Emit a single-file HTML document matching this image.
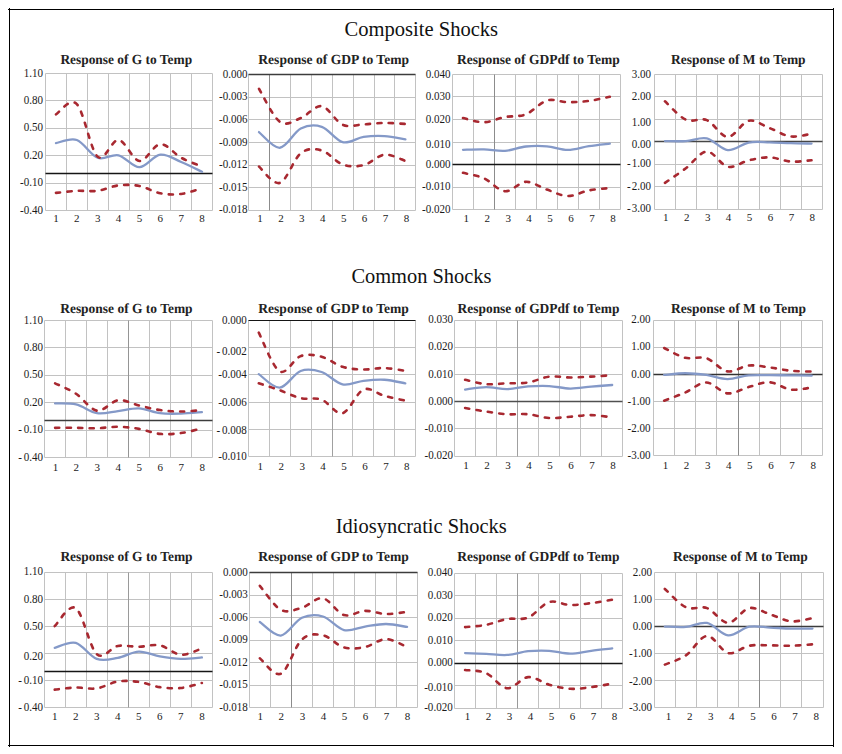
<!DOCTYPE html>
<html><head><meta charset="utf-8"><style>
html,body{margin:0;padding:0;background:#fff;}
svg{display:block;}
</style></head><body>
<svg width="842" height="754" viewBox="0 0 842 754">
<rect width="842" height="754" fill="#fff"/>
<path d="M8,9.5H834M8,745.5H834M9.5,8V747M833.5,8V747" fill="none" stroke="#000" stroke-width="1"/>
<text x="344.5" y="35.8" font-family="Liberation Serif" font-size="20.4" textLength="153.6" lengthAdjust="spacingAndGlyphs" fill="#111">Composite Shocks</text>
<text x="351.4" y="282.8" font-family="Liberation Serif" font-size="20.4" textLength="140.0" lengthAdjust="spacingAndGlyphs" fill="#111">Common Shocks</text>
<text x="335.8" y="533.0" font-family="Liberation Serif" font-size="20.4" textLength="171.0" lengthAdjust="spacingAndGlyphs" fill="#111">Idiosyncratic Shocks</text>
<line x1="45.50" y1="73.50" x2="212.50" y2="73.50" stroke="#c2c2c2" stroke-width="1"/>
<line x1="45.50" y1="100.50" x2="212.50" y2="100.50" stroke="#c2c2c2" stroke-width="1"/>
<line x1="45.50" y1="128.50" x2="212.50" y2="128.50" stroke="#c2c2c2" stroke-width="1"/>
<line x1="45.50" y1="155.50" x2="212.50" y2="155.50" stroke="#c2c2c2" stroke-width="1"/>
<line x1="45.50" y1="183.50" x2="212.50" y2="183.50" stroke="#c2c2c2" stroke-width="1"/>
<line x1="45.50" y1="210.50" x2="212.50" y2="210.50" stroke="#c2c2c2" stroke-width="1"/>
<line x1="45.50" y1="73.50" x2="45.50" y2="210.50" stroke="#c2c2c2" stroke-width="1"/>
<line x1="66.50" y1="73.50" x2="66.50" y2="210.50" stroke="#c2c2c2" stroke-width="1"/>
<line x1="87.50" y1="73.50" x2="87.50" y2="210.50" stroke="#c2c2c2" stroke-width="1"/>
<line x1="108.50" y1="73.50" x2="108.50" y2="210.50" stroke="#c2c2c2" stroke-width="1"/>
<line x1="129.50" y1="73.50" x2="129.50" y2="210.50" stroke="#c2c2c2" stroke-width="1"/>
<line x1="149.50" y1="73.50" x2="149.50" y2="210.50" stroke="#c2c2c2" stroke-width="1"/>
<line x1="170.50" y1="73.50" x2="170.50" y2="210.50" stroke="#c2c2c2" stroke-width="1"/>
<line x1="191.50" y1="73.50" x2="191.50" y2="210.50" stroke="#c2c2c2" stroke-width="1"/>
<line x1="212.50" y1="73.50" x2="212.50" y2="210.50" stroke="#c2c2c2" stroke-width="1"/>
<line x1="45.50" y1="173.50" x2="212.50" y2="173.50" stroke="#151515" stroke-width="1.4"/>
<text transform="translate(43.00 76.60) scale(0.96 1)" text-anchor="end" font-family="Liberation Serif" font-size="11.5" fill="#1a1a1a">1.10</text>
<text transform="translate(43.00 104.00) scale(0.96 1)" text-anchor="end" font-family="Liberation Serif" font-size="11.5" fill="#1a1a1a">0.80</text>
<text transform="translate(43.00 131.40) scale(0.96 1)" text-anchor="end" font-family="Liberation Serif" font-size="11.5" fill="#1a1a1a">0.50</text>
<text transform="translate(43.00 158.80) scale(0.96 1)" text-anchor="end" font-family="Liberation Serif" font-size="11.5" fill="#1a1a1a">0.20</text>
<text transform="translate(43.00 186.20) scale(0.96 1)" text-anchor="end" font-family="Liberation Serif" font-size="11.5" fill="#1a1a1a">-0.10</text>
<text transform="translate(43.00 213.60) scale(0.96 1)" text-anchor="end" font-family="Liberation Serif" font-size="11.5" fill="#1a1a1a">-0.40</text>
<text x="55.94" y="222.20" text-anchor="middle" font-family="Liberation Serif" font-size="11" fill="#1a1a1a">1</text>
<text x="76.81" y="222.20" text-anchor="middle" font-family="Liberation Serif" font-size="11" fill="#1a1a1a">2</text>
<text x="97.69" y="222.20" text-anchor="middle" font-family="Liberation Serif" font-size="11" fill="#1a1a1a">3</text>
<text x="118.56" y="222.20" text-anchor="middle" font-family="Liberation Serif" font-size="11" fill="#1a1a1a">4</text>
<text x="139.44" y="222.20" text-anchor="middle" font-family="Liberation Serif" font-size="11" fill="#1a1a1a">5</text>
<text x="160.31" y="222.20" text-anchor="middle" font-family="Liberation Serif" font-size="11" fill="#1a1a1a">6</text>
<text x="181.19" y="222.20" text-anchor="middle" font-family="Liberation Serif" font-size="11" fill="#1a1a1a">7</text>
<text x="202.06" y="222.20" text-anchor="middle" font-family="Liberation Serif" font-size="11" fill="#1a1a1a">8</text>
<text x="60.4" y="63.6" font-family="Liberation Serif" font-weight="bold" font-size="13.9" text-rendering="geometricPrecision" textLength="131.7" lengthAdjust="spacingAndGlyphs" fill="#222">Response of G to Temp</text>
<path d="M55.94,143.16 C59.42,142.64 69.85,137.59 76.81,140.03 C83.77,142.46 90.73,155.25 97.69,157.79 C104.65,160.34 111.60,153.72 118.56,155.28 C125.52,156.85 132.48,167.30 139.44,167.20 C146.40,167.09 153.35,155.53 160.31,154.66 C167.27,153.79 174.23,159.12 181.19,161.97 C188.15,164.83 198.58,170.16 202.06,171.80" fill="none" stroke="#8499c8" stroke-width="2.3" stroke-linecap="round"/>
<path d="M55.94,114.31 C59.42,112.61 69.85,97.00 76.81,104.07 C83.77,111.14 90.73,150.76 97.69,156.75 C104.65,162.74 111.60,139.33 118.56,140.03 C125.52,140.72 132.48,160.23 139.44,160.93 C146.40,161.62 153.35,144.73 160.31,144.21 C167.27,143.68 174.23,154.06 181.19,157.79 C188.15,161.52 198.58,165.11 202.06,166.57" fill="none" stroke="#a82830" stroke-width="2.6" stroke-linecap="round" stroke-dasharray="4.2 7.3"/>
<path d="M55.94,192.91 C59.42,192.56 69.85,191.17 76.81,190.82 C83.77,190.47 90.73,191.73 97.69,190.82 C104.65,189.91 111.60,186.19 118.56,185.38 C125.52,184.58 132.48,184.69 139.44,186.01 C146.40,187.34 153.35,192.00 160.31,193.33 C167.27,194.65 174.23,194.83 181.19,193.95 C188.15,193.08 198.58,189.08 202.06,188.10" fill="none" stroke="#a82830" stroke-width="2.6" stroke-linecap="round" stroke-dasharray="4.2 7.3"/>
<line x1="248.50" y1="74.50" x2="415.50" y2="74.50" stroke="#c2c2c2" stroke-width="1"/>
<line x1="248.50" y1="97.50" x2="415.50" y2="97.50" stroke="#c2c2c2" stroke-width="1"/>
<line x1="248.50" y1="119.50" x2="415.50" y2="119.50" stroke="#c2c2c2" stroke-width="1"/>
<line x1="248.50" y1="142.50" x2="415.50" y2="142.50" stroke="#c2c2c2" stroke-width="1"/>
<line x1="248.50" y1="165.50" x2="415.50" y2="165.50" stroke="#c2c2c2" stroke-width="1"/>
<line x1="248.50" y1="187.50" x2="415.50" y2="187.50" stroke="#c2c2c2" stroke-width="1"/>
<line x1="248.50" y1="210.50" x2="415.50" y2="210.50" stroke="#c2c2c2" stroke-width="1"/>
<line x1="248.50" y1="74.50" x2="248.50" y2="210.50" stroke="#c2c2c2" stroke-width="1"/>
<line x1="269.50" y1="74.50" x2="269.50" y2="210.50" stroke="#8c8c8c" stroke-width="1"/>
<line x1="290.50" y1="74.50" x2="290.50" y2="210.50" stroke="#c2c2c2" stroke-width="1"/>
<line x1="311.50" y1="74.50" x2="311.50" y2="210.50" stroke="#c2c2c2" stroke-width="1"/>
<line x1="332.50" y1="74.50" x2="332.50" y2="210.50" stroke="#c2c2c2" stroke-width="1"/>
<line x1="353.50" y1="74.50" x2="353.50" y2="210.50" stroke="#c2c2c2" stroke-width="1"/>
<line x1="374.50" y1="74.50" x2="374.50" y2="210.50" stroke="#c2c2c2" stroke-width="1"/>
<line x1="394.50" y1="74.50" x2="394.50" y2="210.50" stroke="#c2c2c2" stroke-width="1"/>
<line x1="415.50" y1="74.50" x2="415.50" y2="210.50" stroke="#c2c2c2" stroke-width="1"/>
<line x1="248.50" y1="74.50" x2="415.50" y2="74.50" stroke="#3c3c3c" stroke-width="1.6"/>
<text transform="translate(247.60 77.60) scale(0.96 1)" text-anchor="end" font-family="Liberation Serif" font-size="11.5" fill="#1a1a1a">0.000</text>
<text transform="translate(247.60 100.23) scale(0.96 1)" text-anchor="end" font-family="Liberation Serif" font-size="11.5" fill="#1a1a1a">-0.003</text>
<text transform="translate(247.60 122.87) scale(0.96 1)" text-anchor="end" font-family="Liberation Serif" font-size="11.5" fill="#1a1a1a">-0.006</text>
<text transform="translate(247.60 145.50) scale(0.96 1)" text-anchor="end" font-family="Liberation Serif" font-size="11.5" fill="#1a1a1a">-0.009</text>
<text transform="translate(247.60 168.13) scale(0.96 1)" text-anchor="end" font-family="Liberation Serif" font-size="11.5" fill="#1a1a1a">-0.012</text>
<text transform="translate(247.60 190.77) scale(0.96 1)" text-anchor="end" font-family="Liberation Serif" font-size="11.5" fill="#1a1a1a">-0.015</text>
<text transform="translate(247.60 213.40) scale(0.96 1)" text-anchor="end" font-family="Liberation Serif" font-size="11.5" fill="#1a1a1a">-0.018</text>
<text x="259.96" y="222.00" text-anchor="middle" font-family="Liberation Serif" font-size="11" fill="#1a1a1a">1</text>
<text x="280.89" y="222.00" text-anchor="middle" font-family="Liberation Serif" font-size="11" fill="#1a1a1a">2</text>
<text x="301.81" y="222.00" text-anchor="middle" font-family="Liberation Serif" font-size="11" fill="#1a1a1a">3</text>
<text x="322.74" y="222.00" text-anchor="middle" font-family="Liberation Serif" font-size="11" fill="#1a1a1a">4</text>
<text x="343.66" y="222.00" text-anchor="middle" font-family="Liberation Serif" font-size="11" fill="#1a1a1a">5</text>
<text x="364.59" y="222.00" text-anchor="middle" font-family="Liberation Serif" font-size="11" fill="#1a1a1a">6</text>
<text x="385.51" y="222.00" text-anchor="middle" font-family="Liberation Serif" font-size="11" fill="#1a1a1a">7</text>
<text x="406.44" y="222.00" text-anchor="middle" font-family="Liberation Serif" font-size="11" fill="#1a1a1a">8</text>
<text x="258.3" y="63.6" font-family="Liberation Serif" font-weight="bold" font-size="13.9" text-rendering="geometricPrecision" textLength="150.7" lengthAdjust="spacingAndGlyphs" fill="#222">Response of GDP to Temp</text>
<path d="M258.96,132.08 C262.45,134.69 272.91,148.35 279.89,147.76 C286.86,147.17 293.84,132.01 300.81,128.53 C307.79,125.04 314.76,124.59 321.74,126.86 C328.71,129.12 335.69,140.44 342.66,142.12 C349.64,143.79 356.61,137.90 363.59,136.89 C370.56,135.88 377.54,135.64 384.51,136.05 C391.49,136.47 401.95,138.84 405.44,139.40" fill="none" stroke="#8499c8" stroke-width="2.3" stroke-linecap="round"/>
<path d="M258.96,88.81 C262.45,94.32 272.91,116.96 279.89,121.84 C286.86,126.72 293.84,120.69 300.81,118.08 C307.79,115.46 314.76,105.05 321.74,106.16 C328.71,107.28 335.69,121.73 342.66,124.77 C349.64,127.80 356.61,124.66 363.59,124.35 C370.56,124.03 377.54,122.95 384.51,122.88 C391.49,122.81 401.95,123.76 405.44,123.93" fill="none" stroke="#a82830" stroke-width="2.6" stroke-linecap="round" stroke-dasharray="4.2 7.3"/>
<path d="M258.96,166.57 C262.45,169.29 272.91,185.11 279.89,182.88 C286.86,180.65 293.84,158.59 300.81,153.19 C307.79,147.79 314.76,148.60 321.74,150.48 C328.71,152.36 335.69,162.04 342.66,164.48 C349.64,166.92 356.61,166.75 363.59,165.11 C370.56,163.47 377.54,155.35 384.51,154.66 C391.49,153.96 401.95,159.88 405.44,160.93" fill="none" stroke="#a82830" stroke-width="2.6" stroke-linecap="round" stroke-dasharray="4.2 7.3"/>
<line x1="452.50" y1="74.50" x2="620.50" y2="74.50" stroke="#c2c2c2" stroke-width="1"/>
<line x1="452.50" y1="96.50" x2="620.50" y2="96.50" stroke="#c2c2c2" stroke-width="1"/>
<line x1="452.50" y1="119.50" x2="620.50" y2="119.50" stroke="#c2c2c2" stroke-width="1"/>
<line x1="452.50" y1="142.50" x2="620.50" y2="142.50" stroke="#c2c2c2" stroke-width="1"/>
<line x1="452.50" y1="164.50" x2="620.50" y2="164.50" stroke="#c2c2c2" stroke-width="1"/>
<line x1="452.50" y1="187.50" x2="620.50" y2="187.50" stroke="#c2c2c2" stroke-width="1"/>
<line x1="452.50" y1="209.50" x2="620.50" y2="209.50" stroke="#c2c2c2" stroke-width="1"/>
<line x1="452.50" y1="74.50" x2="452.50" y2="209.50" stroke="#c2c2c2" stroke-width="1"/>
<line x1="473.50" y1="74.50" x2="473.50" y2="209.50" stroke="#c2c2c2" stroke-width="1"/>
<line x1="494.50" y1="74.50" x2="494.50" y2="209.50" stroke="#8c8c8c" stroke-width="1"/>
<line x1="515.50" y1="74.50" x2="515.50" y2="209.50" stroke="#c2c2c2" stroke-width="1"/>
<line x1="536.50" y1="74.50" x2="536.50" y2="209.50" stroke="#c2c2c2" stroke-width="1"/>
<line x1="557.50" y1="74.50" x2="557.50" y2="209.50" stroke="#c2c2c2" stroke-width="1"/>
<line x1="578.50" y1="74.50" x2="578.50" y2="209.50" stroke="#c2c2c2" stroke-width="1"/>
<line x1="599.50" y1="74.50" x2="599.50" y2="209.50" stroke="#c2c2c2" stroke-width="1"/>
<line x1="620.50" y1="74.50" x2="620.50" y2="209.50" stroke="#c2c2c2" stroke-width="1"/>
<line x1="452.50" y1="164.50" x2="620.50" y2="164.50" stroke="#151515" stroke-width="1.4"/>
<text transform="translate(450.60 77.50) scale(0.96 1)" text-anchor="end" font-family="Liberation Serif" font-size="11.5" fill="#1a1a1a">0.040</text>
<text transform="translate(450.60 100.07) scale(0.96 1)" text-anchor="end" font-family="Liberation Serif" font-size="11.5" fill="#1a1a1a">0.030</text>
<text transform="translate(450.60 122.63) scale(0.96 1)" text-anchor="end" font-family="Liberation Serif" font-size="11.5" fill="#1a1a1a">0.020</text>
<text transform="translate(450.60 148.20) scale(0.96 1)" text-anchor="end" font-family="Liberation Serif" font-size="11.5" fill="#1a1a1a">0.010</text>
<text transform="translate(450.60 167.77) scale(0.96 1)" text-anchor="end" font-family="Liberation Serif" font-size="11.5" fill="#1a1a1a">0.000</text>
<text transform="translate(450.60 190.33) scale(0.96 1)" text-anchor="end" font-family="Liberation Serif" font-size="11.5" fill="#1a1a1a">-0.010</text>
<text transform="translate(450.60 212.90) scale(0.96 1)" text-anchor="end" font-family="Liberation Serif" font-size="11.5" fill="#1a1a1a">-0.020</text>
<text x="466.19" y="221.50" text-anchor="middle" font-family="Liberation Serif" font-size="11" fill="#1a1a1a">1</text>
<text x="487.16" y="221.50" text-anchor="middle" font-family="Liberation Serif" font-size="11" fill="#1a1a1a">2</text>
<text x="508.14" y="221.50" text-anchor="middle" font-family="Liberation Serif" font-size="11" fill="#1a1a1a">3</text>
<text x="529.11" y="221.50" text-anchor="middle" font-family="Liberation Serif" font-size="11" fill="#1a1a1a">4</text>
<text x="550.09" y="221.50" text-anchor="middle" font-family="Liberation Serif" font-size="11" fill="#1a1a1a">5</text>
<text x="571.06" y="221.50" text-anchor="middle" font-family="Liberation Serif" font-size="11" fill="#1a1a1a">6</text>
<text x="592.04" y="221.50" text-anchor="middle" font-family="Liberation Serif" font-size="11" fill="#1a1a1a">7</text>
<text x="613.01" y="221.50" text-anchor="middle" font-family="Liberation Serif" font-size="11" fill="#1a1a1a">8</text>
<text x="457.0" y="63.6" font-family="Liberation Serif" font-weight="bold" font-size="13.9" text-rendering="geometricPrecision" textLength="162.7" lengthAdjust="spacingAndGlyphs" fill="#222">Response of GDPdf to Temp</text>
<path d="M462.99,149.85 C466.48,149.78 476.97,149.26 483.96,149.43 C490.95,149.61 497.95,151.38 504.94,150.89 C511.93,150.41 518.92,147.27 525.91,146.51 C532.90,145.74 539.90,145.74 546.89,146.30 C553.88,146.85 560.87,149.88 567.86,149.85 C574.85,149.81 581.85,147.13 588.84,146.09 C595.83,145.04 606.32,144.00 609.81,143.58" fill="none" stroke="#8499c8" stroke-width="2.3" stroke-linecap="round"/>
<path d="M462.99,118.08 C466.48,118.77 476.97,122.43 483.96,122.26 C490.95,122.08 497.95,118.36 504.94,117.03 C511.93,115.71 518.92,117.07 525.91,114.31 C532.90,111.56 539.90,102.54 546.89,100.52 C553.88,98.50 560.87,102.12 567.86,102.19 C574.85,102.26 581.85,101.84 588.84,100.94 C595.83,100.03 606.32,97.45 609.81,96.76" fill="none" stroke="#a82830" stroke-width="2.6" stroke-linecap="round" stroke-dasharray="4.2 7.3"/>
<path d="M462.99,172.84 C466.48,173.75 476.97,175.21 483.96,178.28 C490.95,181.34 497.95,190.65 504.94,191.24 C511.93,191.83 518.92,182.11 525.91,181.83 C532.90,181.55 539.90,187.20 546.89,189.57 C553.88,191.93 560.87,195.91 567.86,196.05 C574.85,196.18 581.85,191.73 588.84,190.40 C595.83,189.08 606.32,188.49 609.81,188.10" fill="none" stroke="#a82830" stroke-width="2.6" stroke-linecap="round" stroke-dasharray="4.2 7.3"/>
<line x1="654.50" y1="74.50" x2="822.50" y2="74.50" stroke="#c2c2c2" stroke-width="1"/>
<line x1="654.50" y1="96.50" x2="822.50" y2="96.50" stroke="#c2c2c2" stroke-width="1"/>
<line x1="654.50" y1="119.50" x2="822.50" y2="119.50" stroke="#c2c2c2" stroke-width="1"/>
<line x1="654.50" y1="141.50" x2="822.50" y2="141.50" stroke="#c2c2c2" stroke-width="1"/>
<line x1="654.50" y1="164.50" x2="822.50" y2="164.50" stroke="#c2c2c2" stroke-width="1"/>
<line x1="654.50" y1="186.50" x2="822.50" y2="186.50" stroke="#c2c2c2" stroke-width="1"/>
<line x1="654.50" y1="209.50" x2="822.50" y2="209.50" stroke="#c2c2c2" stroke-width="1"/>
<line x1="654.50" y1="74.50" x2="654.50" y2="209.50" stroke="#c2c2c2" stroke-width="1"/>
<line x1="675.50" y1="74.50" x2="675.50" y2="209.50" stroke="#c2c2c2" stroke-width="1"/>
<line x1="696.50" y1="74.50" x2="696.50" y2="209.50" stroke="#c2c2c2" stroke-width="1"/>
<line x1="717.50" y1="74.50" x2="717.50" y2="209.50" stroke="#c2c2c2" stroke-width="1"/>
<line x1="738.50" y1="74.50" x2="738.50" y2="209.50" stroke="#c2c2c2" stroke-width="1"/>
<line x1="759.50" y1="74.50" x2="759.50" y2="209.50" stroke="#c2c2c2" stroke-width="1"/>
<line x1="780.50" y1="74.50" x2="780.50" y2="209.50" stroke="#c2c2c2" stroke-width="1"/>
<line x1="801.50" y1="74.50" x2="801.50" y2="209.50" stroke="#c2c2c2" stroke-width="1"/>
<line x1="822.50" y1="74.50" x2="822.50" y2="209.50" stroke="#c2c2c2" stroke-width="1"/>
<line x1="654.50" y1="141.50" x2="822.50" y2="141.50" stroke="#464646" stroke-width="1.6"/>
<text transform="translate(651.00 77.50) scale(0.96 1)" text-anchor="end" font-family="Liberation Serif" font-size="11.5" fill="#1a1a1a">3.00</text>
<text transform="translate(651.00 99.93) scale(0.96 1)" text-anchor="end" font-family="Liberation Serif" font-size="11.5" fill="#1a1a1a">2.00</text>
<text transform="translate(651.00 125.87) scale(0.96 1)" text-anchor="end" font-family="Liberation Serif" font-size="11.5" fill="#1a1a1a">1.00</text>
<text transform="translate(651.00 148.20) scale(0.96 1)" text-anchor="end" font-family="Liberation Serif" font-size="11.5" fill="#1a1a1a">0.00</text>
<text transform="translate(651.00 167.23) scale(0.96 1)" text-anchor="end" font-family="Liberation Serif" font-size="11.5" fill="#1a1a1a">- 1.00</text>
<text transform="translate(651.00 189.67) scale(0.96 1)" text-anchor="end" font-family="Liberation Serif" font-size="11.5" fill="#1a1a1a">- 2.00</text>
<text transform="translate(651.00 212.10) scale(0.96 1)" text-anchor="end" font-family="Liberation Serif" font-size="11.5" fill="#1a1a1a">- 3.00</text>
<text x="665.77" y="220.70" text-anchor="middle" font-family="Liberation Serif" font-size="11" fill="#1a1a1a">1</text>
<text x="686.71" y="220.70" text-anchor="middle" font-family="Liberation Serif" font-size="11" fill="#1a1a1a">2</text>
<text x="707.64" y="220.70" text-anchor="middle" font-family="Liberation Serif" font-size="11" fill="#1a1a1a">3</text>
<text x="728.58" y="220.70" text-anchor="middle" font-family="Liberation Serif" font-size="11" fill="#1a1a1a">4</text>
<text x="749.52" y="220.70" text-anchor="middle" font-family="Liberation Serif" font-size="11" fill="#1a1a1a">5</text>
<text x="770.46" y="220.70" text-anchor="middle" font-family="Liberation Serif" font-size="11" fill="#1a1a1a">6</text>
<text x="791.39" y="220.70" text-anchor="middle" font-family="Liberation Serif" font-size="11" fill="#1a1a1a">7</text>
<text x="812.33" y="220.70" text-anchor="middle" font-family="Liberation Serif" font-size="11" fill="#1a1a1a">8</text>
<text x="671.1" y="63.6" font-family="Liberation Serif" font-weight="bold" font-size="13.9" text-rendering="geometricPrecision" textLength="134.5" lengthAdjust="spacingAndGlyphs" fill="#222">Response of M to Temp</text>
<path d="M664.97,141.07 C668.46,141.07 678.93,141.52 685.91,141.07 C692.89,140.62 699.86,136.85 706.84,138.35 C713.82,139.85 720.80,149.36 727.78,150.06 C734.76,150.76 741.74,143.82 748.72,142.53 C755.70,141.24 762.68,142.22 769.66,142.32 C776.64,142.43 783.61,142.95 790.59,143.16 C797.57,143.37 808.04,143.51 811.53,143.58" fill="none" stroke="#8499c8" stroke-width="2.3" stroke-linecap="round"/>
<path d="M664.97,101.35 C668.46,104.42 678.93,116.61 685.91,119.75 C692.89,122.88 699.86,117.31 706.84,120.17 C713.82,123.02 720.80,136.79 727.78,136.89 C734.76,136.99 741.74,122.26 748.72,120.79 C755.70,119.33 762.68,125.50 769.66,128.11 C776.64,130.72 783.61,135.53 790.59,136.47 C797.57,137.41 808.04,134.21 811.53,133.75" fill="none" stroke="#a82830" stroke-width="2.6" stroke-linecap="round" stroke-dasharray="4.2 7.3"/>
<path d="M664.97,182.88 C668.46,180.44 678.93,173.47 685.91,168.24 C692.89,163.02 699.86,151.77 706.84,151.52 C713.82,151.28 720.80,165.32 727.78,166.78 C734.76,168.24 741.74,161.87 748.72,160.30 C755.70,158.73 762.68,157.17 769.66,157.37 C776.64,157.58 783.61,161.07 790.59,161.56 C797.57,162.04 808.04,160.51 811.53,160.30" fill="none" stroke="#a82830" stroke-width="2.6" stroke-linecap="round" stroke-dasharray="4.2 7.3"/>
<line x1="44.50" y1="320.50" x2="212.50" y2="320.50" stroke="#c2c2c2" stroke-width="1"/>
<line x1="44.50" y1="347.50" x2="212.50" y2="347.50" stroke="#c2c2c2" stroke-width="1"/>
<line x1="44.50" y1="375.50" x2="212.50" y2="375.50" stroke="#c2c2c2" stroke-width="1"/>
<line x1="44.50" y1="402.50" x2="212.50" y2="402.50" stroke="#c2c2c2" stroke-width="1"/>
<line x1="44.50" y1="430.50" x2="212.50" y2="430.50" stroke="#c2c2c2" stroke-width="1"/>
<line x1="44.50" y1="457.50" x2="212.50" y2="457.50" stroke="#c2c2c2" stroke-width="1"/>
<line x1="44.50" y1="320.50" x2="44.50" y2="457.50" stroke="#c2c2c2" stroke-width="1"/>
<line x1="65.50" y1="320.50" x2="65.50" y2="457.50" stroke="#c2c2c2" stroke-width="1"/>
<line x1="86.50" y1="320.50" x2="86.50" y2="457.50" stroke="#c2c2c2" stroke-width="1"/>
<line x1="107.50" y1="320.50" x2="107.50" y2="457.50" stroke="#c2c2c2" stroke-width="1"/>
<line x1="128.50" y1="320.50" x2="128.50" y2="457.50" stroke="#959595" stroke-width="1"/>
<line x1="149.50" y1="320.50" x2="149.50" y2="457.50" stroke="#c2c2c2" stroke-width="1"/>
<line x1="170.50" y1="320.50" x2="170.50" y2="457.50" stroke="#c2c2c2" stroke-width="1"/>
<line x1="191.50" y1="320.50" x2="191.50" y2="457.50" stroke="#c2c2c2" stroke-width="1"/>
<line x1="212.50" y1="320.50" x2="212.50" y2="457.50" stroke="#c2c2c2" stroke-width="1"/>
<line x1="44.50" y1="420.50" x2="212.50" y2="420.50" stroke="#3c3c3c" stroke-width="1.6"/>
<text transform="translate(43.10 323.60) scale(0.96 1)" text-anchor="end" font-family="Liberation Serif" font-size="11.5" fill="#1a1a1a">1.10</text>
<text transform="translate(43.10 350.98) scale(0.96 1)" text-anchor="end" font-family="Liberation Serif" font-size="11.5" fill="#1a1a1a">0.80</text>
<text transform="translate(43.10 378.36) scale(0.96 1)" text-anchor="end" font-family="Liberation Serif" font-size="11.5" fill="#1a1a1a">0.50</text>
<text transform="translate(43.10 405.74) scale(0.96 1)" text-anchor="end" font-family="Liberation Serif" font-size="11.5" fill="#1a1a1a">0.20</text>
<text transform="translate(43.10 433.12) scale(0.96 1)" text-anchor="end" font-family="Liberation Serif" font-size="11.5" fill="#1a1a1a">- 0.10</text>
<text transform="translate(43.10 460.50) scale(0.96 1)" text-anchor="end" font-family="Liberation Serif" font-size="11.5" fill="#1a1a1a">- 0.40</text>
<text x="55.39" y="470.70" text-anchor="middle" font-family="Liberation Serif" font-size="11" fill="#1a1a1a">1</text>
<text x="76.36" y="470.70" text-anchor="middle" font-family="Liberation Serif" font-size="11" fill="#1a1a1a">2</text>
<text x="97.34" y="470.70" text-anchor="middle" font-family="Liberation Serif" font-size="11" fill="#1a1a1a">3</text>
<text x="118.31" y="470.70" text-anchor="middle" font-family="Liberation Serif" font-size="11" fill="#1a1a1a">4</text>
<text x="139.29" y="470.70" text-anchor="middle" font-family="Liberation Serif" font-size="11" fill="#1a1a1a">5</text>
<text x="160.26" y="470.70" text-anchor="middle" font-family="Liberation Serif" font-size="11" fill="#1a1a1a">6</text>
<text x="181.24" y="470.70" text-anchor="middle" font-family="Liberation Serif" font-size="11" fill="#1a1a1a">7</text>
<text x="202.21" y="470.70" text-anchor="middle" font-family="Liberation Serif" font-size="11" fill="#1a1a1a">8</text>
<text x="60.2" y="312.6" font-family="Liberation Serif" font-weight="bold" font-size="13.9" text-rendering="geometricPrecision" textLength="132.4" lengthAdjust="spacingAndGlyphs" fill="#222">Response of G to Temp</text>
<path d="M55.09,403.37 C58.58,403.55 69.07,402.78 76.06,404.42 C83.05,406.06 90.05,412.08 97.04,413.20 C104.03,414.31 111.02,411.91 118.01,411.11 C125.00,410.31 132.00,408.04 138.99,408.39 C145.98,408.74 152.97,412.33 159.96,413.20 C166.95,414.07 173.95,413.79 180.94,413.62 C187.93,413.44 198.42,412.40 201.91,412.15" fill="none" stroke="#8499c8" stroke-width="2.3" stroke-linecap="round"/>
<path d="M55.09,383.31 C58.58,385.05 69.07,389.20 76.06,393.76 C83.05,398.32 90.05,409.61 97.04,410.69 C104.03,411.77 111.02,401.11 118.01,400.24 C125.00,399.37 132.00,403.83 138.99,405.46 C145.98,407.10 152.97,409.05 159.96,410.06 C166.95,411.07 173.95,411.53 180.94,411.53 C187.93,411.53 198.42,410.31 201.91,410.06" fill="none" stroke="#a82830" stroke-width="2.6" stroke-linecap="round" stroke-dasharray="4.2 7.3"/>
<path d="M55.09,427.83 C58.58,427.83 69.07,427.76 76.06,427.83 C83.05,427.90 90.05,428.42 97.04,428.25 C104.03,428.07 111.02,426.68 118.01,426.79 C125.00,426.89 132.00,427.69 138.99,428.88 C145.98,430.06 152.97,433.20 159.96,433.89 C166.95,434.59 173.95,433.96 180.94,433.06 C187.93,432.15 198.42,429.22 201.91,428.46" fill="none" stroke="#a82830" stroke-width="2.6" stroke-linecap="round" stroke-dasharray="4.2 7.3"/>
<line x1="248.50" y1="320.50" x2="415.50" y2="320.50" stroke="#c2c2c2" stroke-width="1"/>
<line x1="248.50" y1="347.50" x2="415.50" y2="347.50" stroke="#c2c2c2" stroke-width="1"/>
<line x1="248.50" y1="374.50" x2="415.50" y2="374.50" stroke="#c2c2c2" stroke-width="1"/>
<line x1="248.50" y1="402.50" x2="415.50" y2="402.50" stroke="#c2c2c2" stroke-width="1"/>
<line x1="248.50" y1="429.50" x2="415.50" y2="429.50" stroke="#c2c2c2" stroke-width="1"/>
<line x1="248.50" y1="456.50" x2="415.50" y2="456.50" stroke="#c2c2c2" stroke-width="1"/>
<line x1="248.50" y1="320.50" x2="248.50" y2="456.50" stroke="#c2c2c2" stroke-width="1"/>
<line x1="269.50" y1="320.50" x2="269.50" y2="456.50" stroke="#c2c2c2" stroke-width="1"/>
<line x1="290.50" y1="320.50" x2="290.50" y2="456.50" stroke="#c2c2c2" stroke-width="1"/>
<line x1="311.50" y1="320.50" x2="311.50" y2="456.50" stroke="#c2c2c2" stroke-width="1"/>
<line x1="332.50" y1="320.50" x2="332.50" y2="456.50" stroke="#a0a0a0" stroke-width="1"/>
<line x1="352.50" y1="320.50" x2="352.50" y2="456.50" stroke="#c2c2c2" stroke-width="1"/>
<line x1="373.50" y1="320.50" x2="373.50" y2="456.50" stroke="#c2c2c2" stroke-width="1"/>
<line x1="394.50" y1="320.50" x2="394.50" y2="456.50" stroke="#c2c2c2" stroke-width="1"/>
<line x1="415.50" y1="320.50" x2="415.50" y2="456.50" stroke="#c2c2c2" stroke-width="1"/>
<line x1="248.50" y1="320.50" x2="415.50" y2="320.50" stroke="#151515" stroke-width="1.2"/>
<text transform="translate(246.80 323.50) scale(0.96 1)" text-anchor="end" font-family="Liberation Serif" font-size="11.5" fill="#1a1a1a">0.000</text>
<text transform="translate(246.80 354.74) scale(0.96 1)" text-anchor="end" font-family="Liberation Serif" font-size="11.5" fill="#1a1a1a">- 0.002</text>
<text transform="translate(246.80 377.98) scale(0.96 1)" text-anchor="end" font-family="Liberation Serif" font-size="11.5" fill="#1a1a1a">-0.004</text>
<text transform="translate(246.80 406.22) scale(0.96 1)" text-anchor="end" font-family="Liberation Serif" font-size="11.5" fill="#1a1a1a">-0.006</text>
<text transform="translate(246.80 434.06) scale(0.96 1)" text-anchor="end" font-family="Liberation Serif" font-size="11.5" fill="#1a1a1a">- 0.008</text>
<text transform="translate(246.80 459.70) scale(0.96 1)" text-anchor="end" font-family="Liberation Serif" font-size="11.5" fill="#1a1a1a">-0.010</text>
<text x="260.27" y="469.90" text-anchor="middle" font-family="Liberation Serif" font-size="11" fill="#1a1a1a">1</text>
<text x="281.21" y="469.90" text-anchor="middle" font-family="Liberation Serif" font-size="11" fill="#1a1a1a">2</text>
<text x="302.14" y="469.90" text-anchor="middle" font-family="Liberation Serif" font-size="11" fill="#1a1a1a">3</text>
<text x="323.08" y="469.90" text-anchor="middle" font-family="Liberation Serif" font-size="11" fill="#1a1a1a">4</text>
<text x="344.02" y="469.90" text-anchor="middle" font-family="Liberation Serif" font-size="11" fill="#1a1a1a">5</text>
<text x="364.96" y="469.90" text-anchor="middle" font-family="Liberation Serif" font-size="11" fill="#1a1a1a">6</text>
<text x="385.89" y="469.90" text-anchor="middle" font-family="Liberation Serif" font-size="11" fill="#1a1a1a">7</text>
<text x="406.83" y="469.90" text-anchor="middle" font-family="Liberation Serif" font-size="11" fill="#1a1a1a">8</text>
<text x="258.3" y="312.6" font-family="Liberation Serif" font-weight="bold" font-size="13.9" text-rendering="geometricPrecision" textLength="150.6" lengthAdjust="spacingAndGlyphs" fill="#222">Response of GDP to Temp</text>
<path d="M258.77,374.11 C262.26,376.37 272.73,388.22 279.71,387.70 C286.69,387.17 293.66,373.59 300.64,370.97 C307.62,368.36 314.60,369.79 321.58,372.02 C328.56,374.25 335.54,382.89 342.52,384.35 C349.50,385.82 356.48,381.57 363.46,380.80 C370.44,380.03 377.41,379.34 384.39,379.75 C391.37,380.17 401.84,382.72 405.33,383.31" fill="none" stroke="#8499c8" stroke-width="2.3" stroke-linecap="round"/>
<path d="M258.77,332.72 C262.26,339.17 272.73,367.49 279.71,371.39 C286.69,375.29 293.66,358.57 300.64,356.13 C307.62,353.70 314.60,354.98 321.58,356.76 C328.56,358.54 335.54,364.67 342.52,366.79 C349.50,368.92 356.48,369.30 363.46,369.51 C370.44,369.72 377.41,367.84 384.39,368.05 C391.37,368.26 401.84,370.31 405.33,370.77" fill="none" stroke="#a82830" stroke-width="2.6" stroke-linecap="round" stroke-dasharray="4.2 7.3"/>
<path d="M258.77,383.31 C262.26,384.46 272.73,387.73 279.71,390.21 C286.69,392.68 293.66,396.58 300.64,398.15 C307.62,399.72 314.60,397.10 321.58,399.61 C328.56,402.12 335.54,414.87 342.52,413.20 C349.50,411.53 356.48,392.47 363.46,389.58 C370.44,386.69 377.41,394.00 384.39,395.85 C391.37,397.70 401.84,399.86 405.33,400.66" fill="none" stroke="#a82830" stroke-width="2.6" stroke-linecap="round" stroke-dasharray="4.2 7.3"/>
<line x1="454.50" y1="320.50" x2="622.50" y2="320.50" stroke="#c2c2c2" stroke-width="1"/>
<line x1="454.50" y1="347.50" x2="622.50" y2="347.50" stroke="#c2c2c2" stroke-width="1"/>
<line x1="454.50" y1="374.50" x2="622.50" y2="374.50" stroke="#c2c2c2" stroke-width="1"/>
<line x1="454.50" y1="401.50" x2="622.50" y2="401.50" stroke="#c2c2c2" stroke-width="1"/>
<line x1="454.50" y1="428.50" x2="622.50" y2="428.50" stroke="#c2c2c2" stroke-width="1"/>
<line x1="454.50" y1="456.50" x2="622.50" y2="456.50" stroke="#c2c2c2" stroke-width="1"/>
<line x1="454.50" y1="320.50" x2="454.50" y2="456.50" stroke="#c2c2c2" stroke-width="1"/>
<line x1="475.50" y1="320.50" x2="475.50" y2="456.50" stroke="#c2c2c2" stroke-width="1"/>
<line x1="496.50" y1="320.50" x2="496.50" y2="456.50" stroke="#c2c2c2" stroke-width="1"/>
<line x1="517.50" y1="320.50" x2="517.50" y2="456.50" stroke="#a0a0a0" stroke-width="1"/>
<line x1="538.50" y1="320.50" x2="538.50" y2="456.50" stroke="#c2c2c2" stroke-width="1"/>
<line x1="559.50" y1="320.50" x2="559.50" y2="456.50" stroke="#c2c2c2" stroke-width="1"/>
<line x1="580.50" y1="320.50" x2="580.50" y2="456.50" stroke="#c2c2c2" stroke-width="1"/>
<line x1="601.50" y1="320.50" x2="601.50" y2="456.50" stroke="#c2c2c2" stroke-width="1"/>
<line x1="622.50" y1="320.50" x2="622.50" y2="456.50" stroke="#c2c2c2" stroke-width="1"/>
<line x1="454.50" y1="401.50" x2="622.50" y2="401.50" stroke="#505050" stroke-width="1.6"/>
<text transform="translate(453.10 323.30) scale(0.96 1)" text-anchor="end" font-family="Liberation Serif" font-size="11.5" fill="#1a1a1a">0.030</text>
<text transform="translate(453.10 350.46) scale(0.96 1)" text-anchor="end" font-family="Liberation Serif" font-size="11.5" fill="#1a1a1a">0.020</text>
<text transform="translate(453.10 377.62) scale(0.96 1)" text-anchor="end" font-family="Liberation Serif" font-size="11.5" fill="#1a1a1a">0.010</text>
<text transform="translate(453.10 404.78) scale(0.96 1)" text-anchor="end" font-family="Liberation Serif" font-size="11.5" fill="#1a1a1a">0.000</text>
<text transform="translate(453.10 431.94) scale(0.96 1)" text-anchor="end" font-family="Liberation Serif" font-size="11.5" fill="#1a1a1a">-0.010</text>
<text transform="translate(453.10 459.10) scale(0.96 1)" text-anchor="end" font-family="Liberation Serif" font-size="11.5" fill="#1a1a1a">-0.020</text>
<text x="465.91" y="469.30" text-anchor="middle" font-family="Liberation Serif" font-size="11" fill="#1a1a1a">1</text>
<text x="486.92" y="469.30" text-anchor="middle" font-family="Liberation Serif" font-size="11" fill="#1a1a1a">2</text>
<text x="507.93" y="469.30" text-anchor="middle" font-family="Liberation Serif" font-size="11" fill="#1a1a1a">3</text>
<text x="528.94" y="469.30" text-anchor="middle" font-family="Liberation Serif" font-size="11" fill="#1a1a1a">4</text>
<text x="549.96" y="469.30" text-anchor="middle" font-family="Liberation Serif" font-size="11" fill="#1a1a1a">5</text>
<text x="570.97" y="469.30" text-anchor="middle" font-family="Liberation Serif" font-size="11" fill="#1a1a1a">6</text>
<text x="591.98" y="469.30" text-anchor="middle" font-family="Liberation Serif" font-size="11" fill="#1a1a1a">7</text>
<text x="612.99" y="469.30" text-anchor="middle" font-family="Liberation Serif" font-size="11" fill="#1a1a1a">8</text>
<text x="457.6" y="312.6" font-family="Liberation Serif" font-weight="bold" font-size="13.9" text-rendering="geometricPrecision" textLength="161.8" lengthAdjust="spacingAndGlyphs" fill="#222">Response of GDPdf to Temp</text>
<path d="M465.11,389.58 C468.61,389.16 479.11,387.14 486.12,387.07 C493.12,387.00 500.13,389.27 507.13,389.16 C514.14,389.06 521.14,386.97 528.14,386.44 C535.15,385.92 542.15,385.68 549.16,386.03 C556.16,386.37 563.16,388.43 570.17,388.53 C577.17,388.64 584.18,387.24 591.18,386.65 C598.19,386.06 608.69,385.26 612.19,384.98" fill="none" stroke="#8499c8" stroke-width="2.3" stroke-linecap="round"/>
<path d="M465.11,379.75 C468.61,380.49 479.11,383.55 486.12,384.14 C493.12,384.74 500.13,383.59 507.13,383.31 C514.14,383.03 521.14,383.59 528.14,382.47 C535.15,381.36 542.15,377.45 549.16,376.62 C556.16,375.78 563.16,377.45 570.17,377.45 C577.17,377.45 584.18,377.00 591.18,376.62 C598.19,376.24 608.69,375.40 612.19,375.16" fill="none" stroke="#a82830" stroke-width="2.6" stroke-linecap="round" stroke-dasharray="4.2 7.3"/>
<path d="M465.11,407.97 C468.61,408.57 479.11,410.48 486.12,411.53 C493.12,412.57 500.13,413.79 507.13,414.24 C514.14,414.70 521.14,413.62 528.14,414.24 C535.15,414.87 542.15,417.59 549.16,418.01 C556.16,418.42 563.16,417.24 570.17,416.75 C577.17,416.26 584.18,414.98 591.18,415.08 C598.19,415.18 608.69,417.00 612.19,417.38" fill="none" stroke="#a82830" stroke-width="2.6" stroke-linecap="round" stroke-dasharray="4.2 7.3"/>
<line x1="653.50" y1="320.50" x2="822.50" y2="320.50" stroke="#c2c2c2" stroke-width="1"/>
<line x1="653.50" y1="347.50" x2="822.50" y2="347.50" stroke="#c2c2c2" stroke-width="1"/>
<line x1="653.50" y1="374.50" x2="822.50" y2="374.50" stroke="#c2c2c2" stroke-width="1"/>
<line x1="653.50" y1="401.50" x2="822.50" y2="401.50" stroke="#c2c2c2" stroke-width="1"/>
<line x1="653.50" y1="428.50" x2="822.50" y2="428.50" stroke="#c2c2c2" stroke-width="1"/>
<line x1="653.50" y1="455.50" x2="822.50" y2="455.50" stroke="#c2c2c2" stroke-width="1"/>
<line x1="653.50" y1="320.50" x2="653.50" y2="455.50" stroke="#c2c2c2" stroke-width="1"/>
<line x1="674.50" y1="320.50" x2="674.50" y2="455.50" stroke="#c2c2c2" stroke-width="1"/>
<line x1="695.50" y1="320.50" x2="695.50" y2="455.50" stroke="#c2c2c2" stroke-width="1"/>
<line x1="716.50" y1="320.50" x2="716.50" y2="455.50" stroke="#c2c2c2" stroke-width="1"/>
<line x1="738.50" y1="320.50" x2="738.50" y2="455.50" stroke="#8c8c8c" stroke-width="1"/>
<line x1="759.50" y1="320.50" x2="759.50" y2="455.50" stroke="#c2c2c2" stroke-width="1"/>
<line x1="780.50" y1="320.50" x2="780.50" y2="455.50" stroke="#c2c2c2" stroke-width="1"/>
<line x1="801.50" y1="320.50" x2="801.50" y2="455.50" stroke="#c2c2c2" stroke-width="1"/>
<line x1="822.50" y1="320.50" x2="822.50" y2="455.50" stroke="#c2c2c2" stroke-width="1"/>
<line x1="653.50" y1="374.50" x2="822.50" y2="374.50" stroke="#333333" stroke-width="1.4"/>
<text transform="translate(650.60 323.30) scale(0.96 1)" text-anchor="end" font-family="Liberation Serif" font-size="11.5" fill="#1a1a1a">2.00</text>
<text transform="translate(650.60 350.42) scale(0.96 1)" text-anchor="end" font-family="Liberation Serif" font-size="11.5" fill="#1a1a1a">1.00</text>
<text transform="translate(650.60 377.54) scale(0.96 1)" text-anchor="end" font-family="Liberation Serif" font-size="11.5" fill="#1a1a1a">0.00</text>
<text transform="translate(650.60 404.66) scale(0.96 1)" text-anchor="end" font-family="Liberation Serif" font-size="11.5" fill="#1a1a1a">-1.00</text>
<text transform="translate(650.60 431.78) scale(0.96 1)" text-anchor="end" font-family="Liberation Serif" font-size="11.5" fill="#1a1a1a">-2.00</text>
<text transform="translate(650.60 458.90) scale(0.96 1)" text-anchor="end" font-family="Liberation Serif" font-size="11.5" fill="#1a1a1a">-3.00</text>
<text x="665.45" y="469.10" text-anchor="middle" font-family="Liberation Serif" font-size="11" fill="#1a1a1a">1</text>
<text x="686.55" y="469.10" text-anchor="middle" font-family="Liberation Serif" font-size="11" fill="#1a1a1a">2</text>
<text x="707.65" y="469.10" text-anchor="middle" font-family="Liberation Serif" font-size="11" fill="#1a1a1a">3</text>
<text x="728.75" y="469.10" text-anchor="middle" font-family="Liberation Serif" font-size="11" fill="#1a1a1a">4</text>
<text x="749.85" y="469.10" text-anchor="middle" font-family="Liberation Serif" font-size="11" fill="#1a1a1a">5</text>
<text x="770.95" y="469.10" text-anchor="middle" font-family="Liberation Serif" font-size="11" fill="#1a1a1a">6</text>
<text x="792.05" y="469.10" text-anchor="middle" font-family="Liberation Serif" font-size="11" fill="#1a1a1a">7</text>
<text x="813.15" y="469.10" text-anchor="middle" font-family="Liberation Serif" font-size="11" fill="#1a1a1a">8</text>
<text x="671.1" y="312.6" font-family="Liberation Serif" font-weight="bold" font-size="13.9" text-rendering="geometricPrecision" textLength="134.9" lengthAdjust="spacingAndGlyphs" fill="#222">Response of M to Temp</text>
<path d="M664.15,374.95 C667.67,374.67 678.22,373.27 685.25,373.27 C692.28,373.27 699.32,373.97 706.35,374.95 C713.38,375.92 720.42,379.06 727.45,379.13 C734.48,379.20 741.52,376.03 748.55,375.36 C755.58,374.70 762.62,375.16 769.65,375.16 C776.68,375.16 783.72,375.29 790.75,375.36 C797.78,375.43 808.33,375.54 811.85,375.57" fill="none" stroke="#8499c8" stroke-width="2.3" stroke-linecap="round"/>
<path d="M664.15,347.98 C667.67,349.62 678.22,356.10 685.25,357.81 C692.28,359.51 699.32,355.96 706.35,358.22 C713.38,360.49 720.42,370.17 727.45,371.39 C734.48,372.61 741.52,366.20 748.55,365.54 C755.58,364.88 762.62,366.55 769.65,367.42 C776.68,368.29 783.72,370.07 790.75,370.77 C797.78,371.46 808.33,371.46 811.85,371.60" fill="none" stroke="#a82830" stroke-width="2.6" stroke-linecap="round" stroke-dasharray="4.2 7.3"/>
<path d="M664.15,400.66 C667.67,399.30 678.22,395.54 685.25,392.51 C692.28,389.47 699.32,382.33 706.35,382.47 C713.38,382.61 720.42,392.57 727.45,393.34 C734.48,394.11 741.52,388.92 748.55,387.07 C755.58,385.22 762.62,381.84 769.65,382.26 C776.68,382.68 783.72,388.71 790.75,389.58 C797.78,390.45 808.33,387.84 811.85,387.49" fill="none" stroke="#a82830" stroke-width="2.6" stroke-linecap="round" stroke-dasharray="4.2 7.3"/>
<line x1="44.50" y1="572.50" x2="212.50" y2="572.50" stroke="#c2c2c2" stroke-width="1"/>
<line x1="44.50" y1="599.50" x2="212.50" y2="599.50" stroke="#c2c2c2" stroke-width="1"/>
<line x1="44.50" y1="626.50" x2="212.50" y2="626.50" stroke="#c2c2c2" stroke-width="1"/>
<line x1="44.50" y1="653.50" x2="212.50" y2="653.50" stroke="#c2c2c2" stroke-width="1"/>
<line x1="44.50" y1="680.50" x2="212.50" y2="680.50" stroke="#c2c2c2" stroke-width="1"/>
<line x1="44.50" y1="707.50" x2="212.50" y2="707.50" stroke="#c2c2c2" stroke-width="1"/>
<line x1="44.50" y1="572.50" x2="44.50" y2="707.50" stroke="#c2c2c2" stroke-width="1"/>
<line x1="65.50" y1="572.50" x2="65.50" y2="707.50" stroke="#c2c2c2" stroke-width="1"/>
<line x1="86.50" y1="572.50" x2="86.50" y2="707.50" stroke="#c2c2c2" stroke-width="1"/>
<line x1="107.50" y1="572.50" x2="107.50" y2="707.50" stroke="#c2c2c2" stroke-width="1"/>
<line x1="128.50" y1="572.50" x2="128.50" y2="707.50" stroke="#9a9a9a" stroke-width="1"/>
<line x1="149.50" y1="572.50" x2="149.50" y2="707.50" stroke="#c2c2c2" stroke-width="1"/>
<line x1="170.50" y1="572.50" x2="170.50" y2="707.50" stroke="#c2c2c2" stroke-width="1"/>
<line x1="191.50" y1="572.50" x2="191.50" y2="707.50" stroke="#c2c2c2" stroke-width="1"/>
<line x1="212.50" y1="572.50" x2="212.50" y2="707.50" stroke="#c2c2c2" stroke-width="1"/>
<line x1="44.50" y1="671.50" x2="212.50" y2="671.50" stroke="#151515" stroke-width="1.4"/>
<text transform="translate(43.10 575.40) scale(0.96 1)" text-anchor="end" font-family="Liberation Serif" font-size="11.5" fill="#1a1a1a">1.10</text>
<text transform="translate(43.10 602.50) scale(0.96 1)" text-anchor="end" font-family="Liberation Serif" font-size="11.5" fill="#1a1a1a">0.80</text>
<text transform="translate(43.10 629.60) scale(0.96 1)" text-anchor="end" font-family="Liberation Serif" font-size="11.5" fill="#1a1a1a">0.50</text>
<text transform="translate(43.10 659.70) scale(0.96 1)" text-anchor="end" font-family="Liberation Serif" font-size="11.5" fill="#1a1a1a">0.20</text>
<text transform="translate(43.10 683.80) scale(0.96 1)" text-anchor="end" font-family="Liberation Serif" font-size="11.5" fill="#1a1a1a">- 0.10</text>
<text transform="translate(43.10 710.90) scale(0.96 1)" text-anchor="end" font-family="Liberation Serif" font-size="11.5" fill="#1a1a1a">- 0.40</text>
<text x="54.71" y="719.50" text-anchor="middle" font-family="Liberation Serif" font-size="11" fill="#1a1a1a">1</text>
<text x="75.74" y="719.50" text-anchor="middle" font-family="Liberation Serif" font-size="11" fill="#1a1a1a">2</text>
<text x="96.76" y="719.50" text-anchor="middle" font-family="Liberation Serif" font-size="11" fill="#1a1a1a">3</text>
<text x="117.79" y="719.50" text-anchor="middle" font-family="Liberation Serif" font-size="11" fill="#1a1a1a">4</text>
<text x="138.81" y="719.50" text-anchor="middle" font-family="Liberation Serif" font-size="11" fill="#1a1a1a">5</text>
<text x="159.84" y="719.50" text-anchor="middle" font-family="Liberation Serif" font-size="11" fill="#1a1a1a">6</text>
<text x="180.86" y="719.50" text-anchor="middle" font-family="Liberation Serif" font-size="11" fill="#1a1a1a">7</text>
<text x="201.89" y="719.50" text-anchor="middle" font-family="Liberation Serif" font-size="11" fill="#1a1a1a">8</text>
<text x="60.4" y="561.4" font-family="Liberation Serif" font-weight="bold" font-size="13.9" text-rendering="geometricPrecision" textLength="132.2" lengthAdjust="spacingAndGlyphs" fill="#222">Response of G to Temp</text>
<path d="M54.71,647.85 C58.22,647.01 68.73,640.99 75.74,642.83 C82.75,644.68 89.75,656.42 96.76,658.93 C103.77,661.44 110.78,659.10 117.79,657.88 C124.80,656.66 131.80,651.86 138.81,651.61 C145.82,651.37 152.83,655.20 159.84,656.42 C166.85,657.64 173.85,658.75 180.86,658.93 C187.87,659.10 198.38,657.71 201.89,657.46" fill="none" stroke="#8499c8" stroke-width="2.3" stroke-linecap="round"/>
<path d="M54.71,626.11 C58.22,623.11 68.73,603.47 75.74,608.13 C82.75,612.80 89.75,647.81 96.76,654.12 C103.77,660.43 110.78,647.19 117.79,645.97 C124.80,644.75 131.80,646.91 138.81,646.80 C145.82,646.70 152.83,644.02 159.84,645.34 C166.85,646.66 173.85,654.22 180.86,654.75 C187.87,655.27 198.38,649.52 201.89,648.48" fill="none" stroke="#a82830" stroke-width="2.6" stroke-linecap="round" stroke-dasharray="4.2 7.3"/>
<path d="M54.71,689.66 C58.22,689.31 68.73,687.77 75.74,687.57 C82.75,687.36 89.75,689.41 96.76,688.40 C103.77,687.39 110.78,682.58 117.79,681.50 C124.80,680.42 131.80,680.98 138.81,681.92 C145.82,682.86 152.83,686.14 159.84,687.15 C166.85,688.16 173.85,688.68 180.86,687.98 C187.87,687.29 198.38,683.80 201.89,682.97" fill="none" stroke="#a82830" stroke-width="2.6" stroke-linecap="round" stroke-dasharray="4.2 7.3"/>
<line x1="249.50" y1="572.50" x2="417.50" y2="572.50" stroke="#c2c2c2" stroke-width="1"/>
<line x1="249.50" y1="595.50" x2="417.50" y2="595.50" stroke="#c2c2c2" stroke-width="1"/>
<line x1="249.50" y1="617.50" x2="417.50" y2="617.50" stroke="#c2c2c2" stroke-width="1"/>
<line x1="249.50" y1="640.50" x2="417.50" y2="640.50" stroke="#c2c2c2" stroke-width="1"/>
<line x1="249.50" y1="662.50" x2="417.50" y2="662.50" stroke="#c2c2c2" stroke-width="1"/>
<line x1="249.50" y1="685.50" x2="417.50" y2="685.50" stroke="#c2c2c2" stroke-width="1"/>
<line x1="249.50" y1="707.50" x2="417.50" y2="707.50" stroke="#c2c2c2" stroke-width="1"/>
<line x1="249.50" y1="572.50" x2="249.50" y2="707.50" stroke="#c2c2c2" stroke-width="1"/>
<line x1="270.50" y1="572.50" x2="270.50" y2="707.50" stroke="#c2c2c2" stroke-width="1"/>
<line x1="291.50" y1="572.50" x2="291.50" y2="707.50" stroke="#8c8c8c" stroke-width="1"/>
<line x1="312.50" y1="572.50" x2="312.50" y2="707.50" stroke="#c2c2c2" stroke-width="1"/>
<line x1="333.50" y1="572.50" x2="333.50" y2="707.50" stroke="#c2c2c2" stroke-width="1"/>
<line x1="354.50" y1="572.50" x2="354.50" y2="707.50" stroke="#c2c2c2" stroke-width="1"/>
<line x1="375.50" y1="572.50" x2="375.50" y2="707.50" stroke="#c2c2c2" stroke-width="1"/>
<line x1="396.50" y1="572.50" x2="396.50" y2="707.50" stroke="#c2c2c2" stroke-width="1"/>
<line x1="417.50" y1="572.50" x2="417.50" y2="707.50" stroke="#c2c2c2" stroke-width="1"/>
<line x1="249.50" y1="572.50" x2="417.50" y2="572.50" stroke="#3c3c3c" stroke-width="1.6"/>
<text transform="translate(247.80 575.70) scale(0.96 1)" text-anchor="end" font-family="Liberation Serif" font-size="11.5" fill="#1a1a1a">0.000</text>
<text transform="translate(247.80 598.23) scale(0.96 1)" text-anchor="end" font-family="Liberation Serif" font-size="11.5" fill="#1a1a1a">-0.003</text>
<text transform="translate(247.80 620.77) scale(0.96 1)" text-anchor="end" font-family="Liberation Serif" font-size="11.5" fill="#1a1a1a">-0.006</text>
<text transform="translate(247.80 643.30) scale(0.96 1)" text-anchor="end" font-family="Liberation Serif" font-size="11.5" fill="#1a1a1a">-0.009</text>
<text transform="translate(247.80 665.83) scale(0.96 1)" text-anchor="end" font-family="Liberation Serif" font-size="11.5" fill="#1a1a1a">-0.012</text>
<text transform="translate(247.80 688.37) scale(0.96 1)" text-anchor="end" font-family="Liberation Serif" font-size="11.5" fill="#1a1a1a">-0.015</text>
<text transform="translate(247.80 710.90) scale(0.96 1)" text-anchor="end" font-family="Liberation Serif" font-size="11.5" fill="#1a1a1a">-0.018</text>
<text x="260.32" y="719.50" text-anchor="middle" font-family="Liberation Serif" font-size="11" fill="#1a1a1a">1</text>
<text x="281.36" y="719.50" text-anchor="middle" font-family="Liberation Serif" font-size="11" fill="#1a1a1a">2</text>
<text x="302.39" y="719.50" text-anchor="middle" font-family="Liberation Serif" font-size="11" fill="#1a1a1a">3</text>
<text x="323.43" y="719.50" text-anchor="middle" font-family="Liberation Serif" font-size="11" fill="#1a1a1a">4</text>
<text x="344.47" y="719.50" text-anchor="middle" font-family="Liberation Serif" font-size="11" fill="#1a1a1a">5</text>
<text x="365.51" y="719.50" text-anchor="middle" font-family="Liberation Serif" font-size="11" fill="#1a1a1a">6</text>
<text x="386.54" y="719.50" text-anchor="middle" font-family="Liberation Serif" font-size="11" fill="#1a1a1a">7</text>
<text x="407.58" y="719.50" text-anchor="middle" font-family="Liberation Serif" font-size="11" fill="#1a1a1a">8</text>
<text x="258.3" y="561.4" font-family="Liberation Serif" font-weight="bold" font-size="13.9" text-rendering="geometricPrecision" textLength="150.6" lengthAdjust="spacingAndGlyphs" fill="#222">Response of GDP to Temp</text>
<path d="M259.82,621.93 C263.33,624.19 273.84,636.21 280.86,635.52 C287.87,634.82 294.88,620.92 301.89,617.75 C308.91,614.58 315.92,614.44 322.93,616.49 C329.94,618.55 336.96,628.41 343.97,630.08 C350.98,631.75 357.99,627.54 365.01,626.53 C372.02,625.52 379.03,623.95 386.04,624.02 C393.06,624.09 403.58,626.46 407.08,626.95" fill="none" stroke="#8499c8" stroke-width="2.3" stroke-linecap="round"/>
<path d="M259.82,585.77 C263.33,589.77 273.84,606.15 280.86,609.81 C287.87,613.46 294.88,609.63 301.89,607.72 C308.91,605.80 315.92,597.09 322.93,598.31 C329.94,599.53 336.96,612.94 343.97,615.03 C350.98,617.12 357.99,611.03 365.01,610.85 C372.02,610.68 379.03,613.81 386.04,613.99 C393.06,614.16 403.58,612.24 407.08,611.90" fill="none" stroke="#a82830" stroke-width="2.6" stroke-linecap="round" stroke-dasharray="4.2 7.3"/>
<path d="M259.82,658.30 C263.33,660.88 273.84,676.90 280.86,673.77 C287.87,670.63 294.88,645.90 301.89,639.49 C308.91,633.08 315.92,633.98 322.93,635.31 C329.94,636.63 336.96,645.48 343.97,647.43 C350.98,649.38 357.99,648.41 365.01,647.01 C372.02,645.62 379.03,639.07 386.04,639.07 C393.06,639.07 403.58,645.69 407.08,647.01" fill="none" stroke="#a82830" stroke-width="2.6" stroke-linecap="round" stroke-dasharray="4.2 7.3"/>
<line x1="454.50" y1="573.50" x2="622.50" y2="573.50" stroke="#c2c2c2" stroke-width="1"/>
<line x1="454.50" y1="595.50" x2="622.50" y2="595.50" stroke="#c2c2c2" stroke-width="1"/>
<line x1="454.50" y1="618.50" x2="622.50" y2="618.50" stroke="#c2c2c2" stroke-width="1"/>
<line x1="454.50" y1="640.50" x2="622.50" y2="640.50" stroke="#c2c2c2" stroke-width="1"/>
<line x1="454.50" y1="663.50" x2="622.50" y2="663.50" stroke="#c2c2c2" stroke-width="1"/>
<line x1="454.50" y1="685.50" x2="622.50" y2="685.50" stroke="#c2c2c2" stroke-width="1"/>
<line x1="454.50" y1="708.50" x2="622.50" y2="708.50" stroke="#c2c2c2" stroke-width="1"/>
<line x1="454.50" y1="573.50" x2="454.50" y2="708.50" stroke="#c2c2c2" stroke-width="1"/>
<line x1="475.50" y1="573.50" x2="475.50" y2="708.50" stroke="#c2c2c2" stroke-width="1"/>
<line x1="496.50" y1="573.50" x2="496.50" y2="708.50" stroke="#c2c2c2" stroke-width="1"/>
<line x1="517.50" y1="573.50" x2="517.50" y2="708.50" stroke="#9a9a9a" stroke-width="1"/>
<line x1="538.50" y1="573.50" x2="538.50" y2="708.50" stroke="#c2c2c2" stroke-width="1"/>
<line x1="559.50" y1="573.50" x2="559.50" y2="708.50" stroke="#c2c2c2" stroke-width="1"/>
<line x1="580.50" y1="573.50" x2="580.50" y2="708.50" stroke="#c2c2c2" stroke-width="1"/>
<line x1="601.50" y1="573.50" x2="601.50" y2="708.50" stroke="#c2c2c2" stroke-width="1"/>
<line x1="622.50" y1="573.50" x2="622.50" y2="708.50" stroke="#c2c2c2" stroke-width="1"/>
<line x1="454.50" y1="663.50" x2="622.50" y2="663.50" stroke="#151515" stroke-width="1.4"/>
<text transform="translate(452.70 576.10) scale(0.96 1)" text-anchor="end" font-family="Liberation Serif" font-size="11.5" fill="#1a1a1a">0.040</text>
<text transform="translate(452.70 598.60) scale(0.96 1)" text-anchor="end" font-family="Liberation Serif" font-size="11.5" fill="#1a1a1a">0.030</text>
<text transform="translate(452.70 621.10) scale(0.96 1)" text-anchor="end" font-family="Liberation Serif" font-size="11.5" fill="#1a1a1a">0.020</text>
<text transform="translate(452.70 643.60) scale(0.96 1)" text-anchor="end" font-family="Liberation Serif" font-size="11.5" fill="#1a1a1a">0.010</text>
<text transform="translate(452.70 666.10) scale(0.96 1)" text-anchor="end" font-family="Liberation Serif" font-size="11.5" fill="#1a1a1a">0.000</text>
<text transform="translate(452.70 691.20) scale(0.96 1)" text-anchor="end" font-family="Liberation Serif" font-size="11.5" fill="#1a1a1a">-0.010</text>
<text transform="translate(452.70 711.10) scale(0.96 1)" text-anchor="end" font-family="Liberation Serif" font-size="11.5" fill="#1a1a1a">-0.020</text>
<text x="467.41" y="719.70" text-anchor="middle" font-family="Liberation Serif" font-size="11" fill="#1a1a1a">1</text>
<text x="488.42" y="719.70" text-anchor="middle" font-family="Liberation Serif" font-size="11" fill="#1a1a1a">2</text>
<text x="509.43" y="719.70" text-anchor="middle" font-family="Liberation Serif" font-size="11" fill="#1a1a1a">3</text>
<text x="530.44" y="719.70" text-anchor="middle" font-family="Liberation Serif" font-size="11" fill="#1a1a1a">4</text>
<text x="551.46" y="719.70" text-anchor="middle" font-family="Liberation Serif" font-size="11" fill="#1a1a1a">5</text>
<text x="572.47" y="719.70" text-anchor="middle" font-family="Liberation Serif" font-size="11" fill="#1a1a1a">6</text>
<text x="593.48" y="719.70" text-anchor="middle" font-family="Liberation Serif" font-size="11" fill="#1a1a1a">7</text>
<text x="614.49" y="719.70" text-anchor="middle" font-family="Liberation Serif" font-size="11" fill="#1a1a1a">8</text>
<text x="457.3" y="561.4" font-family="Liberation Serif" font-weight="bold" font-size="13.9" text-rendering="geometricPrecision" textLength="162.1" lengthAdjust="spacingAndGlyphs" fill="#222">Response of GDPdf to Temp</text>
<path d="M465.11,653.08 C468.61,653.21 479.11,653.60 486.12,653.91 C493.12,654.22 500.13,655.41 507.13,654.96 C514.14,654.50 521.14,651.89 528.14,651.19 C535.15,650.50 542.15,650.36 549.16,650.78 C556.16,651.19 563.16,653.70 570.17,653.70 C577.17,653.70 584.18,651.65 591.18,650.78 C598.19,649.90 608.69,648.86 612.19,648.48" fill="none" stroke="#8499c8" stroke-width="2.3" stroke-linecap="round"/>
<path d="M465.11,627.16 C468.61,626.77 479.11,626.21 486.12,624.86 C493.12,623.50 500.13,620.22 507.13,619.00 C514.14,617.78 521.14,620.36 528.14,617.54 C535.15,614.72 542.15,604.16 549.16,602.07 C556.16,599.98 563.16,604.82 570.17,605.00 C577.17,605.17 584.18,603.99 591.18,603.12 C598.19,602.25 608.69,600.33 612.19,599.77" fill="none" stroke="#a82830" stroke-width="2.6" stroke-linecap="round" stroke-dasharray="4.2 7.3"/>
<path d="M465.11,670.01 C468.61,670.53 479.11,670.11 486.12,673.14 C493.12,676.17 500.13,687.53 507.13,688.19 C514.14,688.85 521.14,677.71 528.14,677.11 C535.15,676.52 542.15,682.69 549.16,684.64 C556.16,686.59 563.16,688.40 570.17,688.82 C577.17,689.24 584.18,688.02 591.18,687.15 C598.19,686.28 608.69,684.19 612.19,683.59" fill="none" stroke="#a82830" stroke-width="2.6" stroke-linecap="round" stroke-dasharray="4.2 7.3"/>
<line x1="654.50" y1="572.50" x2="823.50" y2="572.50" stroke="#c2c2c2" stroke-width="1"/>
<line x1="654.50" y1="599.50" x2="823.50" y2="599.50" stroke="#c2c2c2" stroke-width="1"/>
<line x1="654.50" y1="626.50" x2="823.50" y2="626.50" stroke="#c2c2c2" stroke-width="1"/>
<line x1="654.50" y1="653.50" x2="823.50" y2="653.50" stroke="#c2c2c2" stroke-width="1"/>
<line x1="654.50" y1="680.50" x2="823.50" y2="680.50" stroke="#c2c2c2" stroke-width="1"/>
<line x1="654.50" y1="707.50" x2="823.50" y2="707.50" stroke="#c2c2c2" stroke-width="1"/>
<line x1="654.50" y1="572.50" x2="654.50" y2="707.50" stroke="#c2c2c2" stroke-width="1"/>
<line x1="675.50" y1="572.50" x2="675.50" y2="707.50" stroke="#c2c2c2" stroke-width="1"/>
<line x1="696.50" y1="572.50" x2="696.50" y2="707.50" stroke="#c2c2c2" stroke-width="1"/>
<line x1="717.50" y1="572.50" x2="717.50" y2="707.50" stroke="#c2c2c2" stroke-width="1"/>
<line x1="738.50" y1="572.50" x2="738.50" y2="707.50" stroke="#c2c2c2" stroke-width="1"/>
<line x1="759.50" y1="572.50" x2="759.50" y2="707.50" stroke="#8c8c8c" stroke-width="1"/>
<line x1="780.50" y1="572.50" x2="780.50" y2="707.50" stroke="#c2c2c2" stroke-width="1"/>
<line x1="801.50" y1="572.50" x2="801.50" y2="707.50" stroke="#c2c2c2" stroke-width="1"/>
<line x1="823.50" y1="572.50" x2="823.50" y2="707.50" stroke="#c2c2c2" stroke-width="1"/>
<line x1="654.50" y1="626.50" x2="823.50" y2="626.50" stroke="#3c3c3c" stroke-width="1.6"/>
<text transform="translate(652.00 575.70) scale(0.96 1)" text-anchor="end" font-family="Liberation Serif" font-size="11.5" fill="#1a1a1a">2.00</text>
<text transform="translate(652.00 602.74) scale(0.96 1)" text-anchor="end" font-family="Liberation Serif" font-size="11.5" fill="#1a1a1a">1.00</text>
<text transform="translate(652.00 629.78) scale(0.96 1)" text-anchor="end" font-family="Liberation Serif" font-size="11.5" fill="#1a1a1a">0.00</text>
<text transform="translate(652.00 656.82) scale(0.96 1)" text-anchor="end" font-family="Liberation Serif" font-size="11.5" fill="#1a1a1a">-1.00</text>
<text transform="translate(652.00 685.46) scale(0.96 1)" text-anchor="end" font-family="Liberation Serif" font-size="11.5" fill="#1a1a1a">-2.00</text>
<text transform="translate(652.00 710.90) scale(0.96 1)" text-anchor="end" font-family="Liberation Serif" font-size="11.5" fill="#1a1a1a">-3.00</text>
<text x="668.54" y="719.50" text-anchor="middle" font-family="Liberation Serif" font-size="11" fill="#1a1a1a">1</text>
<text x="689.63" y="719.50" text-anchor="middle" font-family="Liberation Serif" font-size="11" fill="#1a1a1a">2</text>
<text x="710.72" y="719.50" text-anchor="middle" font-family="Liberation Serif" font-size="11" fill="#1a1a1a">3</text>
<text x="731.81" y="719.50" text-anchor="middle" font-family="Liberation Serif" font-size="11" fill="#1a1a1a">4</text>
<text x="752.89" y="719.50" text-anchor="middle" font-family="Liberation Serif" font-size="11" fill="#1a1a1a">5</text>
<text x="773.98" y="719.50" text-anchor="middle" font-family="Liberation Serif" font-size="11" fill="#1a1a1a">6</text>
<text x="795.07" y="719.50" text-anchor="middle" font-family="Liberation Serif" font-size="11" fill="#1a1a1a">7</text>
<text x="816.16" y="719.50" text-anchor="middle" font-family="Liberation Serif" font-size="11" fill="#1a1a1a">8</text>
<text x="673.0" y="561.4" font-family="Liberation Serif" font-weight="bold" font-size="13.9" text-rendering="geometricPrecision" textLength="134.8" lengthAdjust="spacingAndGlyphs" fill="#222">Response of M to Temp</text>
<path d="M664.84,626.53 C668.36,626.60 678.90,627.54 685.93,626.95 C692.96,626.35 699.99,621.58 707.02,622.97 C714.05,624.37 721.08,634.68 728.11,635.31 C735.14,635.93 742.16,628.03 749.19,626.74 C756.22,625.45 763.25,627.26 770.28,627.57 C777.31,627.89 784.34,628.44 791.37,628.62 C798.40,628.79 808.94,628.62 812.46,628.62" fill="none" stroke="#8499c8" stroke-width="2.3" stroke-linecap="round"/>
<path d="M664.84,588.90 C668.36,591.97 678.90,604.09 685.93,607.30 C692.96,610.50 699.99,605.56 707.02,608.13 C714.05,610.71 721.08,622.77 728.11,622.77 C735.14,622.77 742.16,609.53 749.19,608.13 C756.22,606.74 763.25,612.21 770.28,614.40 C777.31,616.60 784.34,620.68 791.37,621.30 C798.40,621.93 808.94,618.69 812.46,618.17" fill="none" stroke="#a82830" stroke-width="2.6" stroke-linecap="round" stroke-dasharray="4.2 7.3"/>
<path d="M664.84,664.57 C668.36,663.04 678.90,660.15 685.93,655.37 C692.96,650.60 699.99,636.32 707.02,635.93 C714.05,635.55 721.08,651.44 728.11,653.08 C735.14,654.71 742.16,647.05 749.19,645.76 C756.22,644.47 763.25,645.34 770.28,645.34 C777.31,645.34 784.34,645.93 791.37,645.76 C798.40,645.59 808.94,644.54 812.46,644.30" fill="none" stroke="#a82830" stroke-width="2.6" stroke-linecap="round" stroke-dasharray="4.2 7.3"/>
</svg>
</body></html>
